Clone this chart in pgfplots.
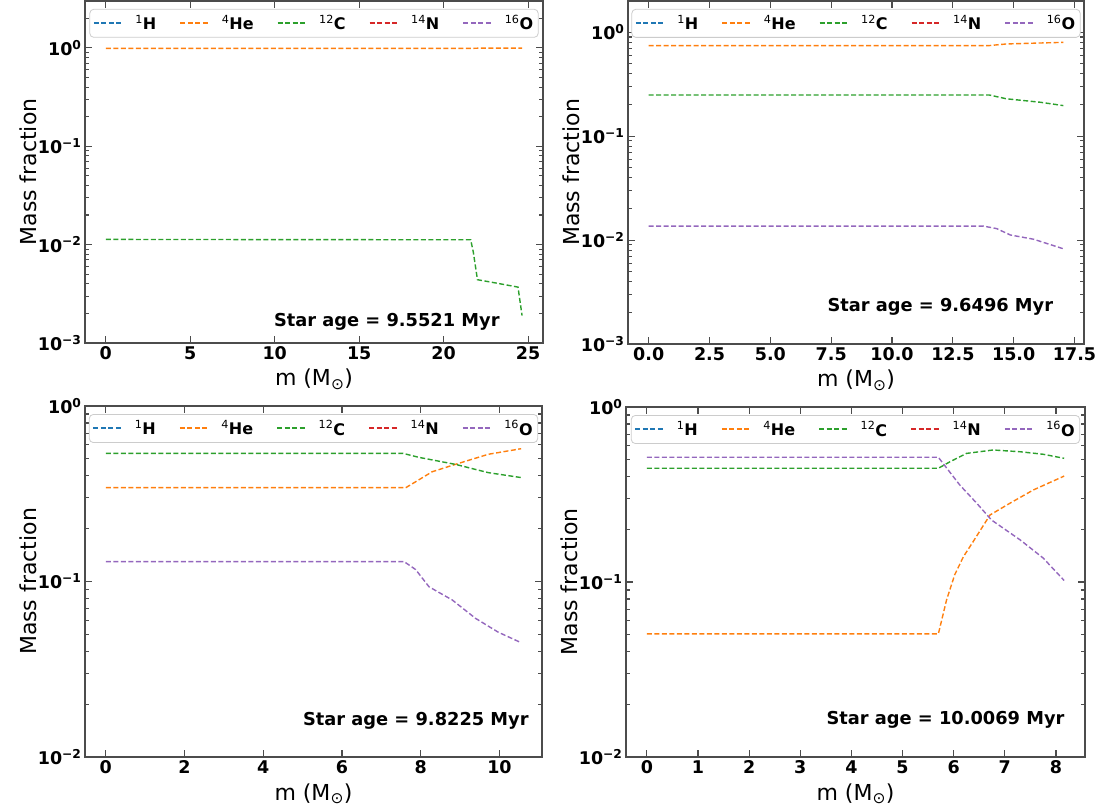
\documentclass[border=0pt]{standalone}
\usepackage{fontspec}
\setmainfont{DejaVu Sans}
\usepackage{pgfplots}
\pgfplotsset{compat=1.18}

\definecolor{cH}{HTML}{1F77B4}
\definecolor{cHe}{HTML}{FF7F0E}
\definecolor{cC}{HTML}{2CA02C}
\definecolor{cN}{HTML}{D62728}
\definecolor{cO}{HTML}{9467BD}

\newcommand{\tickfont}{\fontsize{17.5}{20}\selectfont\bfseries}
\newcommand{\agefont}{\fontsize{17.8}{20}\selectfont\bfseries}
\newcommand{\labfont}{\fontsize{22}{26}\selectfont}

\tikzset{ln/.style={line width=1.4pt, dash pattern=on 5pt off 2.5pt}}
% dashed legend sample set as rules, so that it takes the text colour
\newcommand{\dashbit}{\rule[-0.7pt]{5pt}{1.4pt}}
\newcommand{\dashsample}{\dashbit\hspace{2.5pt}\dashbit\hspace{2.5pt}\dashbit\hspace{2.5pt}\dashbit}
% one legend entry: colour, isotope mass, element
\newcommand{\iso}[3]{%
  \addlegendimage{legend image code/.code={\node[inner sep=0pt, anchor=west, text=#1] at (0pt,0pt) {\dashsample};}}%
  \addlegendentry{\textsuperscript{\mdseries #2}\textbf{#3}}}
\newcommand{\isolegend}{\iso{cH}{1}{H}\iso{cHe}{4}{He}\iso{cC}{12}{C}\iso{cN}{14}{N}\iso{cO}{16}{O}}

\pgfplotsset{
  every axis/.append style={
    scale only axis,
    axis line style={black!70, line width=1.3pt},
    tick align=inside, tick pos=both,
    xticklabel pos=lower, yticklabel pos=left,
    major tick length=7pt, minor tick length=4pt,
    tick style={black!70, line width=1.1pt},
    tick label style={font=\tickfont},
    x label style={at={(axis description cs:0.5,0)}, anchor=base, yshift=-43pt, font=\labfont},
    y label style={at={(axis description cs:-0.124,0.5)}, anchor=center, font=\labfont},
    legend columns=5,
    legend style={at={(0.5,0.977)}, anchor=north, draw=black!20, line width=0.8pt,
      rounded corners=4pt, fill=white, font=\fontsize{16}{18}\selectfont,
      inner xsep=4pt, inner ysep=3pt,
      nodes={inner xsep=1pt, inner ysep=3pt},
      /tikz/every odd column/.style={column sep=13pt},
      /tikz/every even column/.style={column sep=23pt}},
  },
}

\begin{document}
\begin{tikzpicture}
\useasboundingbox (0pt,0pt) rectangle (1100pt,805pt);

% top left
\begin{axis}[ymode=log, anchor=south west, at={(85pt,462pt)}, width=458pt, height=342pt,
  xlabel={m (M\textsubscript{⊙})}, ylabel={Mass fraction},
  xmin=-1.23, xmax=25.88, ymin=1e-3, ymax=3,
  xtick={0,5,10,15,20,25}, xticklabels={0,5,10,15,20,25},
  ytick={1e-3,1e-2,1e-1,1},
  yticklabels={10\textsuperscript{−3},10\textsuperscript{−2},10\textsuperscript{−1},10\textsuperscript{0}},
  minor ytick={2e-3,3e-3,4e-3,5e-3,6e-3,7e-3,8e-3,9e-3,2e-2,3e-2,4e-2,5e-2,6e-2,7e-2,8e-2,9e-2,0.2,0.3,0.4,0.5,0.6,0.7,0.8,0.9,2,3}]
\isolegend
\addplot[draw=cHe, ln, forget plot] coordinates {(0,0.988) (21.6,0.988) (22.0,0.994) (24.64,0.995)};
\addplot[draw=cC, ln, forget plot] coordinates {(0,0.0113) (21.6,0.0112) (21.75,0.0085) (22.0,0.0044) (23.0,0.0041) (24.4,0.0037) (24.64,0.0019)};
\node[font=\agefont] at (rel axis cs:0.659,0.061) {Star age = 9.5521 Myr};
\end{axis}

% top right
\begin{axis}[ymode=log, anchor=south west, at={(628pt,461pt)}, width=456pt, height=343pt,
  xlabel={m (M\textsubscript{⊙})}, ylabel={Mass fraction},
  xmin=-0.852, xmax=17.89, ymin=1e-3, ymax=2,
  xtick={0,2.5,5,7.5,10,12.5,15,17.5}, xticklabels={0.0,2.5,5.0,7.5,10.0,12.5,15.0,17.5},
  ytick={1e-3,1e-2,1e-1,1},
  yticklabels={10\textsuperscript{−3},10\textsuperscript{−2},10\textsuperscript{−1},10\textsuperscript{0}},
  minor ytick={2e-3,3e-3,4e-3,5e-3,6e-3,7e-3,8e-3,9e-3,2e-2,3e-2,4e-2,5e-2,6e-2,7e-2,8e-2,9e-2,0.2,0.3,0.4,0.5,0.6,0.7,0.8,0.9,2}]
\isolegend
\addplot[draw=cHe, ln, forget plot] coordinates {(0,0.745) (14.0,0.745) (14.7,0.772) (15.8,0.785) (17.04,0.80)};
\addplot[draw=cC, ln, forget plot] coordinates {(0,0.249) (14.0,0.249) (14.7,0.229) (16.1,0.212) (17.04,0.197)};
\addplot[draw=cO, ln, forget plot] coordinates {(0,0.01364) (13.75,0.01364) (14.3,0.0129) (14.86,0.0112) (15.81,0.0102) (17.04,0.00825)};
\node[font=\agefont] at (rel axis cs:0.685,0.108) {Star age = 9.6496 Myr};
\end{axis}

% bottom left
\begin{axis}[ymode=log, anchor=south west, at={(85pt,48pt)}, width=457pt, height=351pt,
  xlabel={m (M\textsubscript{⊙})}, ylabel={Mass fraction},
  xmin=-0.527, xmax=11.08, ymin=1e-2, ymax=1,
  xtick={0,2,4,6,8,10}, xticklabels={0,2,4,6,8,10},
  ytick={1e-2,1e-1,1},
  yticklabels={10\textsuperscript{−2},10\textsuperscript{−1},10\textsuperscript{0}},
  minor ytick={2e-2,3e-2,4e-2,5e-2,6e-2,7e-2,8e-2,9e-2,0.2,0.3,0.4,0.5,0.6,0.7,0.8,0.9}]
\isolegend
\addplot[draw=cHe, ln, forget plot] coordinates {(0,0.3425) (7.62,0.3425) (7.87,0.370) (8.29,0.422) (8.88,0.465) (9.72,0.531) (10.55,0.571)};
\addplot[draw=cC, ln, forget plot] coordinates {(0,0.537) (7.55,0.537) (7.95,0.510) (8.88,0.465) (9.72,0.417) (10.55,0.391)};
\addplot[draw=cO, ln, forget plot] coordinates {(0,0.1297) (7.58,0.1297) (7.87,0.117) (8.21,0.0933) (8.8,0.0785) (9.39,0.0617) (9.97,0.0514) (10.55,0.0448)};
\node[font=\agefont] at (rel axis cs:0.724,0.103) {Star age = 9.8225 Myr};
\end{axis}

% bottom right
\begin{axis}[ymode=log, anchor=south west, at={(626pt,48pt)}, width=459pt, height=350pt,
  xlabel={m (M\textsubscript{⊙})}, ylabel={Mass fraction},
  xmin=-0.408, xmax=8.568, ymin=1e-2, ymax=1,
  xtick={0,1,2,3,4,5,6,7,8}, xticklabels={0,1,2,3,4,5,6,7,8},
  ytick={1e-2,1e-1,1},
  yticklabels={10\textsuperscript{−2},10\textsuperscript{−1},10\textsuperscript{0}},
  minor ytick={2e-2,3e-2,4e-2,5e-2,6e-2,7e-2,8e-2,9e-2,0.2,0.3,0.4,0.5,0.6,0.7,0.8,0.9}]
\isolegend
\addplot[draw=cHe, ln, forget plot] coordinates {(0,0.0505) (5.70,0.0505) (5.86,0.0789) (6.02,0.110) (6.19,0.1395) (6.38,0.170) (6.71,0.2415) (7.10,0.282) (7.56,0.336) (8.16,0.403)};
\addplot[draw=cC, ln, forget plot] coordinates {(0,0.4465) (5.70,0.4465) (5.93,0.487) (6.25,0.543) (6.77,0.568) (7.30,0.555) (7.75,0.537) (8.16,0.509)};
\addplot[draw=cO, ln, forget plot] coordinates {(0,0.516) (5.70,0.516) (6.12,0.358) (6.45,0.282) (6.74,0.226) (7.30,0.174) (7.75,0.137) (8.16,0.102)};
\node[font=\agefont] at (rel axis cs:0.696,0.106) {Star age = 10.0069 Myr};
\end{axis}
\end{tikzpicture}
\end{document}
